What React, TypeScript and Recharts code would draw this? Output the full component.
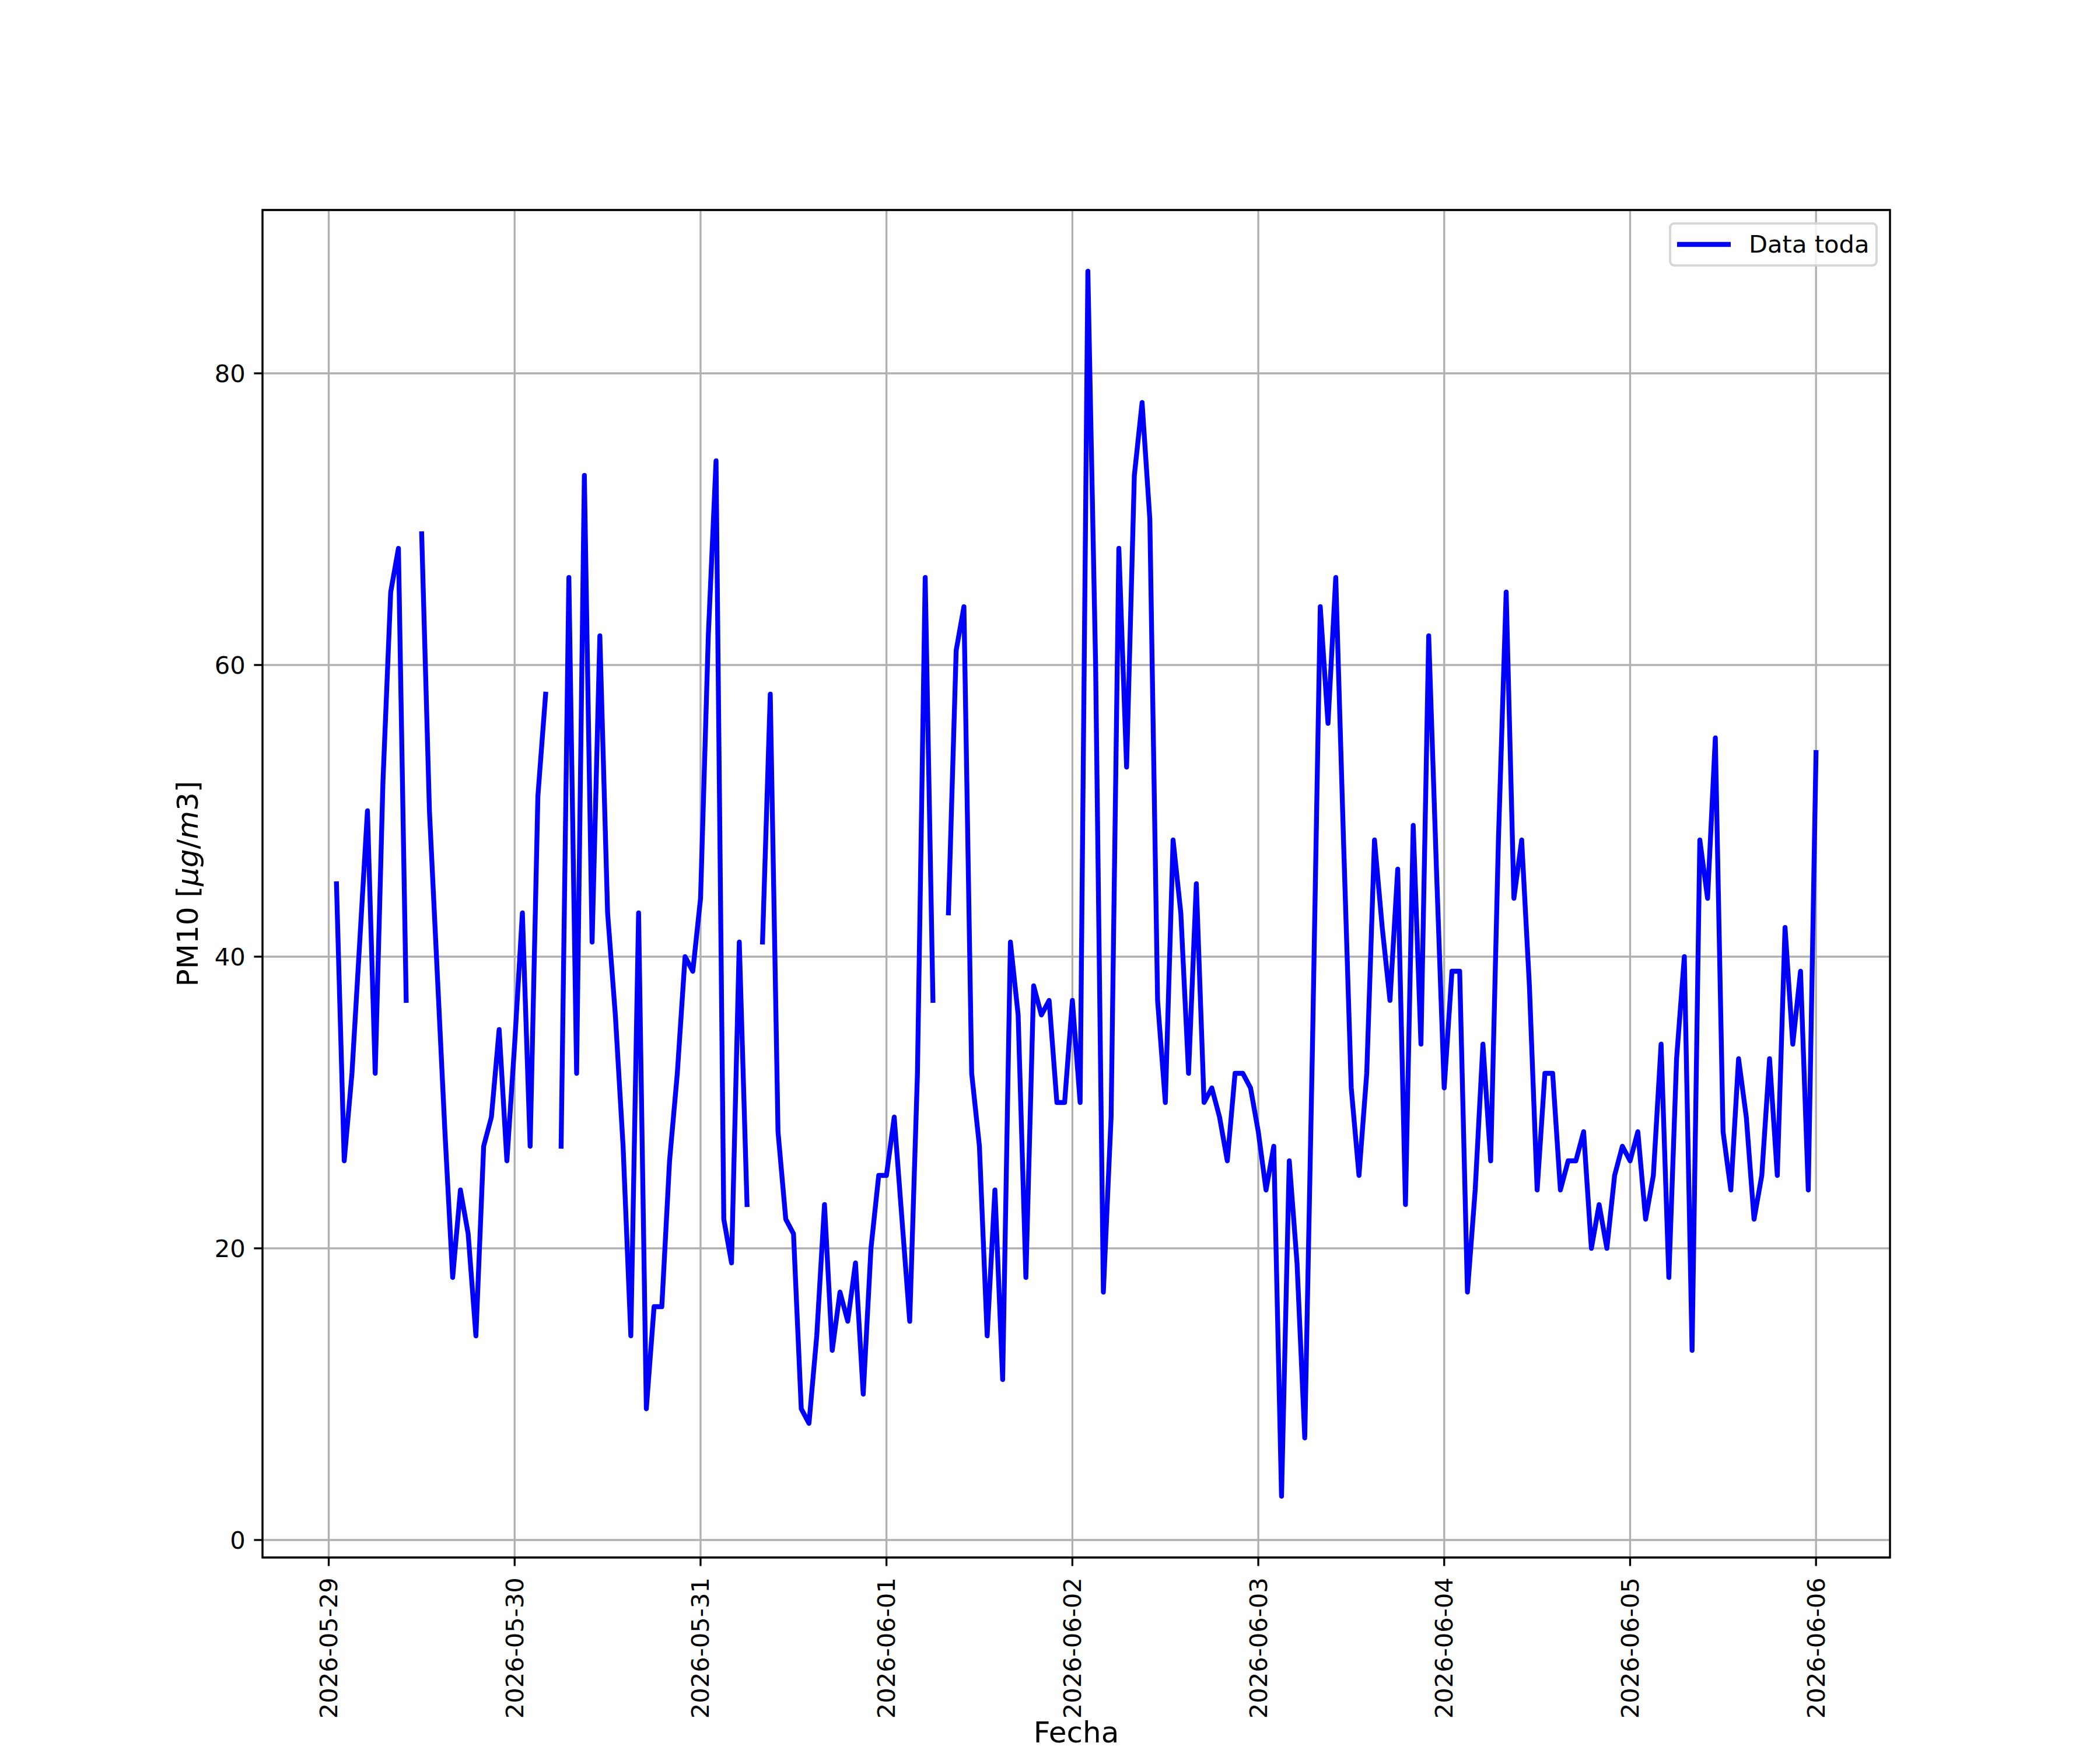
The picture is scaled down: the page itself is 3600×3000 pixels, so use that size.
import React from 'react';
import { LineChart, Line, XAxis, YAxis, CartesianGrid, ReferenceArea, Legend } from 'recharts';

// hourly PM10 readings; may29 starts at 01:00, the other days at 00:00
const may29 = [45, 26, 32, 41, 50, 32, 52, 65, 68, 37, null, 69, 50, 39, 28, 18, 24, 21, 14, 27, 29, 35, 26];
const may30 = [34, 43, 27, 51, 58, null, 27, 66, 32, 73, 41, 62, 43, 36, 27, 14, 43, 9, 16, 16, 26, 32, 40, 39];
const may31 = [44, 62, 74, 22, 19, 41, 23, null, 41, 58, 28, 22, 21, 9, 8, 14, 23, 13, 17, 15, 19, 10, 20, 25];
const jun01 = [25, 29, 22, 15, 32, 66, 37, null, 43, 61, 64, 32, 27, 14, 24, 11, 41, 36, 18, 38, 36, 37, 30, 30];
const jun02 = [37, 30, 87, 60, 17, 29, 68, 53, 73, 78, 70, 37, 30, 48, 43, 32, 45, 30, 31, 29, 26, 32, 32, 31];
const jun03 = [28, 24, 27, 3, 26, 19, 7, 34, 64, 56, 66, 48, 31, 25, 32, 48, 42, 37, 46, 23, 49, 34, 62, 46];
const jun04 = [31, 39, 39, 17, 24, 34, 26, 48, 65, 44, 48, 38, 24, 32, 32, 24, 26, 26, 28, 20, 23, 20, 25, 27];
const jun05 = [26, 28, 22, 25, 34, 18, 33, 40, 13, 48, 44, 55, 28, 24, 33, 29, 22, 25, 33, 25, 42, 34, 39, 24];
const jun06 = [54];

const dayLabels = [
  '2026-05-29', '2026-05-30', '2026-05-31', '2026-06-01', '2026-06-02',
  '2026-06-03', '2026-06-04', '2026-06-05', '2026-06-06',
];
const yTicks = [0, 20, 40, 60, 80];

const firstHour = 1;
const readings = [...may29, ...may30, ...may31, ...jun01, ...jun02, ...jun03, ...jun04, ...jun05, ...jun06];
const data = readings.map((v, i) => ({ t: firstHour + i, pm10: v }));
const xTicks = dayLabels.map((_, i) => i * 24);

// matplotlib style auto-limits (5% margins)
const lastHour = firstHour + readings.length - 1;
const xPad = (lastHour - firstHour) * 0.05;
const xMin = firstHour - xPad;
const xMax = lastHour + xPad;
const yMin = -1.2;
const yMax = 91.2;

const FONT = '"DejaVu Sans", sans-serif';
const FS = 41.67;
const LABEL_FS = 50;
const THIN = 3.33;

function DateTick(props: any) {
  const { x, y, payload } = props;
  const ty = y + 5;
  return (
    <text
      x={x}
      y={ty}
      transform={`rotate(-90 ${x} ${ty})`}
      textAnchor="end"
      dominantBaseline="central"
      fontSize={FS}
      fontFamily={FONT}
      fill="#000"
    >
      {dayLabels[Math.round(payload.value / 24)]}
    </text>
  );
}

function YLabel(props: any) {
  const { viewBox } = props;
  const cx = viewBox.x + 339;
  const cy = viewBox.y + viewBox.height / 2;
  return (
    <text
      x={cx}
      y={cy}
      transform={`rotate(-90 ${cx} ${cy})`}
      textAnchor="middle"
      fontSize={LABEL_FS}
      fontFamily={FONT}
      fill="#000"
    >
      PM10 [<tspan fontStyle="italic">μg</tspan>/<tspan fontStyle="italic">m</tspan>3]
    </text>
  );
}

function XLabel(props: any) {
  const { viewBox } = props;
  return (
    <text
      x={viewBox.x + viewBox.width / 2}
      y={2987}
      textAnchor="middle"
      fontSize={LABEL_FS}
      fontFamily={FONT}
      fill="#000"
    >
      Fecha
    </text>
  );
}

function LegendBox() {
  return (
    <div
      style={{
        boxSizing: 'border-box',
        width: 358,
        height: 76,
        border: '4px solid rgba(204,204,204,0.8)',
        borderRadius: 9,
        background: 'rgba(255,255,255,0.8)',
        display: 'flex',
        alignItems: 'center',
        fontFamily: FONT,
        fontSize: FS,
        color: '#000',
      }}
    >
      <svg width={104} height={20} style={{ marginLeft: 10 }}>
        <line x1={0} y1={10} x2={92} y2={10} stroke="#0000ff" strokeWidth={8.33} />
      </svg>
      <span style={{ marginLeft: 19, lineHeight: 1 }}>Data toda</span>
    </div>
  );
}

export default function App() {
  return (
    <div style={{ position: 'absolute', left: 0, top: 0, width: 3600, height: 3000, background: '#fff' }}>
      <LineChart
        width={3600}
        height={3000}
        data={data}
        margin={{ top: 360, right: 360, bottom: 0, left: 0 }}
      >
        <CartesianGrid stroke="#b0b0b0" strokeWidth={THIN} />
        <XAxis
          dataKey="t"
          type="number"
          domain={[xMin, xMax]}
          ticks={xTicks}
          interval={0}
          allowDataOverflow
          height={330}
          axisLine={false}
          tickLine={{ stroke: '#000', strokeWidth: THIN }}
          tickSize={14.6}
          tickMargin={14.6}
          tick={<DateTick />}
          label={XLabel}
        />
        <YAxis
          type="number"
          domain={[yMin, yMax]}
          ticks={yTicks}
          interval={0}
          allowDataOverflow
          width={450}
          axisLine={false}
          tickLine={{ stroke: '#000', strokeWidth: THIN }}
          tickSize={14.6}
          tickMargin={14.6}
          tick={{ fontSize: FS, fontFamily: FONT, fill: '#000' }}
          label={YLabel}
        />
        <Line
          type="linear"
          dataKey="pm10"
          name="Data toda"
          stroke="#0000ff"
          strokeWidth={8.33}
          strokeLinejoin="round"
          strokeLinecap="square"
          dot={false}
          activeDot={false}
          connectNulls={false}
          isAnimationActive={false}
        />
        <ReferenceArea
          x1={xMin}
          x2={xMax}
          y1={yMin}
          y2={yMax}
          fill="none"
          fillOpacity={0}
          stroke="#000"
          strokeWidth={THIN}
          ifOverflow="visible"
        />
        <Legend
          layout="horizontal"
          verticalAlign="middle"
          align="center"
          wrapperStyle={{ left: 2861, top: 381, width: 358, height: 76 }}
          content={() => <LegendBox />}
        />
      </LineChart>
    </div>
  );
}
